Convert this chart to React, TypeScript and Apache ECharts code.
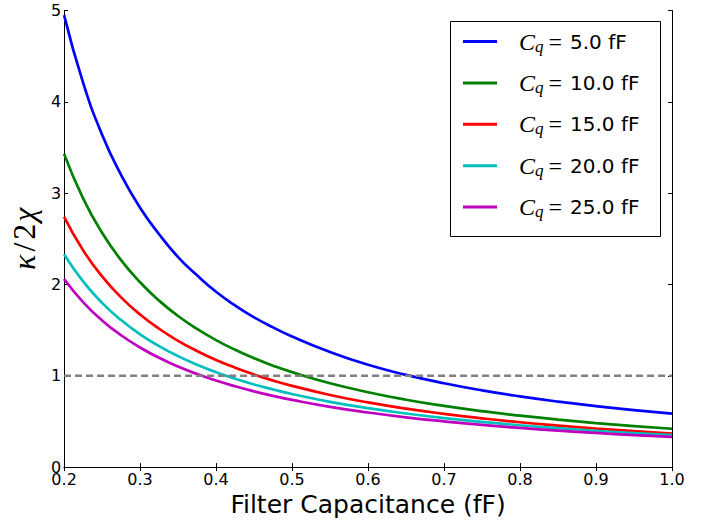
import React, { useEffect, useRef } from 'react';
import * as echarts from 'echarts';

// Filter capacitance (fF)
const xValues = [0.2, 0.225, 0.25, 0.275, 0.3, 0.325, 0.35, 0.375, 0.4, 0.425, 0.45, 0.475, 0.5, 0.55, 0.6, 0.65, 0.7, 0.75, 0.8, 0.85, 0.9, 0.95, 1.0];
// kappa / 2 chi for each Cq
const cq5 = [4.95, 4.21, 3.64, 3.20, 2.84, 2.55, 2.30, 2.10, 1.92, 1.77, 1.64, 1.53, 1.43, 1.26, 1.12, 1.01, 0.918, 0.840, 0.774, 0.717, 0.668, 0.624, 0.586];
const cq10 = [3.43, 2.943, 2.566, 2.266, 2.024, 1.823, 1.655, 1.513, 1.391, 1.285, 1.193, 1.111, 1.040, 0.918, 0.820, 0.738, 0.670, 0.612, 0.563, 0.520, 0.482, 0.449, 0.42];
const cq15 = [2.74, 2.375, 2.088, 1.859, 1.671, 1.515, 1.383, 1.271, 1.173, 1.089, 1.014, 0.948, 0.890, 0.790, 0.708, 0.640, 0.583, 0.534, 0.491, 0.455, 0.422, 0.394, 0.368];
const cq20 = [2.33, 2.033, 1.798, 1.610, 1.454, 1.325, 1.215, 1.121, 1.039, 0.968, 0.905, 0.850, 0.800, 0.715, 0.645, 0.587, 0.537, 0.495, 0.458, 0.426, 0.398, 0.372, 0.35];
const cq25 = [2.06, 1.807, 1.606, 1.444, 1.310, 1.197, 1.101, 1.019, 0.948, 0.885, 0.829, 0.780, 0.736, 0.660, 0.598, 0.545, 0.501, 0.462, 0.429, 0.400, 0.374, 0.351, 0.33];

const cqLabels = ['5.0', '10.0', '15.0', '20.0', '25.0'];
const cqSeries = [cq5, cq10, cq15, cq20, cq25];
const seriesColors = ['#0000ff', '#008000', '#ff0000', '#00bfbf', '#bf00bf'];

const thresholdValue = 1;
const xMin = 0.2;
const xMax = 1.0;
const xInterval = 0.1;
const yMin = 0;
const yMax = 5;
const yInterval = 1;

const seriesNames = cqLabels.map((l) => `Cq = ${l} fF`);

export default function App() {
  const ref = useRef<HTMLDivElement>(null);

  useEffect(() => {
    document.body.style.margin = '0';
    if (!ref.current) return;
    const chart = echarts.init(ref.current, undefined, { renderer: 'svg' });

    const axisCommon = {
      type: 'value' as const,
      splitLine: { show: false },
      axisLine: { show: true, lineStyle: { color: '#000', width: 1 } },
      axisTick: { show: true, inside: true, length: 4, lineStyle: { color: '#000', width: 1 } },
    };

    const series: any[] = cqSeries.map((vals, i) => ({
      name: seriesNames[i],
      type: 'line',
      data: xValues.map((x, j) => [x, vals[j]]),
      smooth: 0.5,
      symbol: 'none',
      lineStyle: { color: seriesColors[i], width: 2.7 },
      itemStyle: { color: seriesColors[i] },
      z: 2,
    }));

    series.push({
      name: 'threshold',
      type: 'line',
      data: [
        [xMin, thresholdValue],
        [xMax, thresholdValue],
      ],
      symbol: 'none',
      silent: true,
      lineStyle: { color: '#808080', width: 2.5, type: [7, 4] },
      z: 3,
    });

    const serif = 'Liberation Serif';

    chart.setOption({
      animation: false,
      backgroundColor: '#fff',
      grid: { left: 59, top: 10.5, right: 39, bottom: 52.5, containLabel: false },
      xAxis: [
        {
          ...axisCommon,
          position: 'bottom',
          min: xMin,
          max: xMax,
          interval: xInterval,
          axisLabel: {
            color: '#000',
            fontSize: 16,
            fontFamily: 'DejaVu Sans',
            margin: 4,
            formatter: (v: number) => v.toFixed(1),
          },
          name: 'Filter Capacitance (fF)',
          nameLocation: 'middle',
          nameGap: 24,
          nameTextStyle: { color: '#000', fontSize: 25, fontFamily: 'DejaVu Sans' },
        },
        {
          ...axisCommon,
          position: 'top',
          min: xMin,
          max: xMax,
          interval: xInterval,
          axisLabel: { show: false },
        },
      ],
      yAxis: [
        {
          ...axisCommon,
          position: 'left',
          min: yMin,
          max: yMax,
          interval: yInterval,
          axisLabel: {
            color: '#000',
            fontSize: 16,
            fontFamily: 'DejaVu Sans',
            margin: 3,
            formatter: (v: number) => String(Math.round(v)),
          },
          name: '{i|κ}{s|/}{u|2}{i|χ}',
          nameLocation: 'middle',
          nameGap: 14.5,
          nameRotate: 90,
          nameTextStyle: {
            rich: {
              i: { fontFamily: serif, fontStyle: 'italic', fontSize: 32, color: '#000', lineHeight: 32 },
              s: { fontFamily: serif, fontSize: 32, color: '#000', lineHeight: 32, padding: [0, 3, 0, 3] },
              u: { fontFamily: serif, fontSize: 32, color: '#000', lineHeight: 32, padding: [0, 2, 0, 0] },
            },
          },
        },
        {
          ...axisCommon,
          position: 'right',
          min: yMin,
          max: yMax,
          interval: yInterval,
          axisLabel: { show: false },
        },
      ],
      legend: {
        orient: 'vertical',
        left: 463,
        top: 29.5,
        padding: 0,
        itemWidth: 34,
        itemHeight: 3,
        itemGap: 16.4,
        icon: 'rect',
        data: seriesNames,
        formatter: (name: string) => {
          const idx = seriesNames.indexOf(name);
          return `{c|C}{q|q}{eq|=}{n|${cqLabels[idx]} fF}`;
        },
        textStyle: {
          rich: {
            c: { fontFamily: serif, fontStyle: 'italic', fontSize: 24, color: '#000', lineHeight: 26, padding: [0, 0, 0, 17] },
            q: { fontFamily: serif, fontStyle: 'italic', fontSize: 17, color: '#000', lineHeight: 12, verticalAlign: 'bottom' },
            eq: { fontFamily: serif, fontSize: 24, color: '#000', lineHeight: 26, padding: [0, 8, 0, 5] },
            n: { fontFamily: 'DejaVu Sans', fontSize: 20, color: '#000', lineHeight: 26 },
          },
        },
      },
      graphic: [
        {
          type: 'rect',
          z: 1,
          shape: { x: 450.5, y: 21.5, width: 210, height: 215 },
          style: { fill: 'transparent', stroke: '#000', lineWidth: 1 },
          silent: true,
        },
      ],
      series,
    });

    return () => {
      chart.dispose();
    };
  }, []);

  return <div ref={ref} style={{ position: 'absolute', left: 0, top: 0, width: 711, height: 522 }} />;
}
